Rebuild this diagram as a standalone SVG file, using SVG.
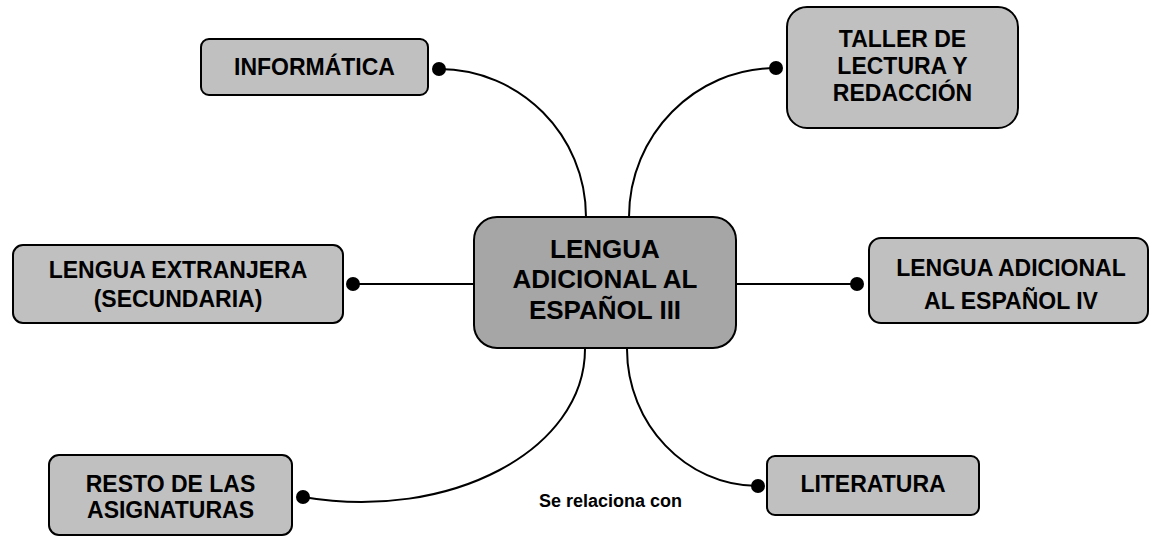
<svg xmlns="http://www.w3.org/2000/svg" width="1150" height="536" viewBox="0 0 1150 536">
<style>
.box{fill:#c0c0c0;stroke:#000;stroke-width:2}
.main{fill:#a6a6a6;stroke:#000;stroke-width:2}
.t{font-family:"Liberation Sans",Arial,sans-serif;font-weight:bold;font-size:23px;fill:#000;text-anchor:middle}
.tm{font-size:26px}
.c{fill:none;stroke:#000;stroke-width:2}
.dot{fill:#000}
</style>
<rect width="1150" height="536" fill="#fff"/>
<g id="connectors">
<path class="c" d="M439,69 C520,69 586,135 586,217"/>
<path class="c" d="M776,68 C695,68 629,135 629,217"/>
<path class="c" d="M353,284 L474,284"/>
<path class="c" d="M736,284 L857,284"/>
<path class="c" d="M585,349 C585,450 450,522 303,497"/>
<path class="c" d="M627,349 C627,424 686,486 758,486"/>
<circle class="dot" cx="439" cy="69" r="7"/>
<circle class="dot" cx="776" cy="68" r="7"/>
<circle class="dot" cx="353" cy="284" r="7"/>
<circle class="dot" cx="857" cy="284" r="7"/>
<circle class="dot" cx="303" cy="497" r="7"/>
<circle class="dot" cx="758" cy="486" r="7"/>
</g>
<g id="n-center">
<rect class="main" x="474" y="217" width="262" height="131" rx="23"/>
<text class="t tm" x="605" y="258">LENGUA</text>
<text class="t tm" x="605" y="288">ADICIONAL AL</text>
<text class="t tm" x="605" y="319">ESPAÑOL III</text>
</g>
<g id="n-informatica">
<rect class="box" x="201" y="39" width="227" height="56" rx="8"/>
<text class="t" x="314.5" y="75">INFORMÁTICA</text>
</g>
<g id="n-taller">
<rect class="box" x="787" y="7" width="231" height="121" rx="20"/>
<text class="t" x="902.5" y="47">TALLER DE</text>
<text class="t" x="902.5" y="74">LECTURA Y</text>
<text class="t" x="902.5" y="101">REDACCIÓN</text>
</g>
<g id="n-extranjera">
<rect class="box" x="13" y="245" width="330" height="78" rx="10"/>
<text class="t" x="178" y="278">LENGUA EXTRANJERA</text>
<text class="t" x="178" y="307">(SECUNDARIA)</text>
</g>
<g id="n-adicional4">
<rect class="box" x="869" y="238" width="279" height="85" rx="12"/>
<text class="t" x="1011" y="276">LENGUA ADICIONAL</text>
<text class="t" x="1011" y="309">AL ESPAÑOL IV</text>
</g>
<g id="n-resto">
<rect class="box" x="49" y="455" width="243" height="80" rx="10"/>
<text class="t" x="170.5" y="492">RESTO DE LAS</text>
<text class="t" x="170.5" y="518">ASIGNATURAS</text>
</g>
<g id="n-literatura">
<rect class="box" x="767" y="456" width="212" height="59" rx="8"/>
<text class="t" x="873" y="492">LITERATURA</text>
</g>
<text class="t" style="font-size:18px" x="610.5" y="507">Se relaciona con</text>
</svg>
